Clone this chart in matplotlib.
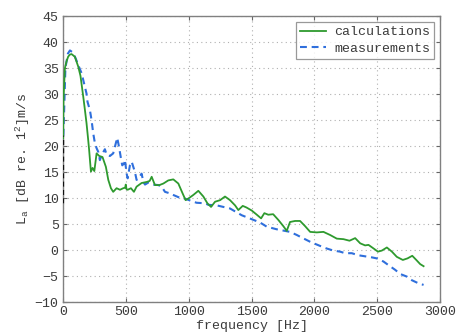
import matplotlib
matplotlib.use("Agg")
import matplotlib.pyplot as plt

# calculations (green)
calc_f = [2, 5, 16, 29, 42, 55, 69, 95, 122, 140, 162, 175, 188, 200, 209, 217, 223, 236,
          250, 268, 289, 315, 342, 361, 382, 400, 427, 454, 480, 495, 500, 506, 515, 541,
          565, 586, 626, 666, 690, 706, 732, 767, 799, 838, 878, 918, 952, 976, 1003,
          1037, 1077, 1117, 1149, 1178, 1210, 1250, 1289, 1329, 1369, 1395, 1430, 1459,
          1502, 1542, 1576, 1602, 1633, 1672, 1713, 1753, 1780, 1806, 1846, 1886, 1926,
          1966, 2019, 2072, 2125, 2178, 2231, 2279, 2324, 2364, 2403, 2430, 2465, 2505,
          2536, 2576, 2616, 2655, 2703, 2740, 2778, 2810, 2841, 2868]
calc_db = [21.5, 29.0, 35.0, 36.3, 37.2, 37.6, 37.7, 37.2, 35.3, 33.5, 29.5, 27.0, 24.4,
           21.5, 19.2, 16.8, 15.1, 15.8, 15.2, 18.6, 18.1, 17.9, 16.0, 13.5, 11.9, 11.2,
           11.9, 11.6, 11.9, 12.0, 12.6, 11.7, 11.6, 11.9, 11.2, 12.2, 12.9, 13.1, 13.3,
           14.1, 12.5, 12.5, 12.8, 13.4, 13.6, 12.8, 10.9, 9.6, 10.0, 10.6, 11.4, 10.3,
           9.0, 8.3, 9.3, 9.6, 10.3, 9.6, 8.6, 7.7, 8.5, 8.2, 7.6, 6.8, 6.1, 7.1, 6.8, 6.9,
           5.8, 4.6, 3.7, 5.4, 5.6, 5.6, 4.6, 3.5, 3.4, 3.5, 2.9, 2.2, 2.1, 1.8, 2.3, 1.3,
           0.9, 1.0, 0.4, -0.3, -0.1, 0.5, -0.3, -1.3, -1.9, -1.6, -1.1, -1.9, -2.7, -3.1]

# measurements (blue dashed)
meas_f = [4, 20, 40, 56, 80, 101, 117, 149, 162, 188, 196, 215, 228, 241, 255, 268, 281,
          294, 313, 334, 348, 374, 400, 414, 432, 446, 462, 472, 488, 493, 507, 515, 533,
          547, 560, 573, 586, 600, 626, 640, 653, 680, 720, 760, 785, 812, 852, 878, 945,
          971, 1037, 1064, 1130, 1157, 1223, 1329, 1422, 1568, 1621, 1700, 1806, 1860,
          1900, 1966, 2005, 2045, 2098, 2151, 2204, 2244, 2297, 2350, 2403, 2456, 2496,
          2549, 2589, 2642, 2682, 2735, 2775, 2828, 2868]
meas_db = [22.0, 35.0, 37.8, 38.4, 38.0, 36.9, 35.9, 34.0, 32.7, 30.1, 28.5, 26.9, 25.0,
           22.5, 20.5, 19.6, 18.9, 17.3, 18.5, 19.4, 18.3, 18.1, 18.6, 19.9, 21.6, 19.9,
           17.6, 16.3, 16.7, 17.4, 14.7, 13.8, 16.3, 17.0, 16.0, 15.0, 13.5, 13.8, 14.7,
           13.1, 12.6, 13.0, 12.6, 12.5, 12.2, 11.2, 10.9, 10.6, 9.9, 9.9, 9.3, 9.1, 9.0,
           8.7, 8.6, 8.0, 6.7, 5.3, 4.5, 4.0, 3.5, 2.9, 2.4, 1.6, 1.2, 0.8, 0.3, -0.1,
           -0.3, -0.6, -0.6, -1.0, -1.2, -1.4, -1.6, -2.2, -2.9, -3.8, -4.6, -5.1, -5.8,
           -6.4, -6.7]

# low-frequency start of measurement (drawn dark)
low_f = [3, 4]
low_db = [9.0, 22.0]

xticks = [0, 500, 1000, 1500, 2000, 2500, 3000]
yticks = [-10, -5, 0, 5, 10, 15, 20, 25, 30, 35, 40, 45]

FONT = "Liberation Mono"
plt.rcParams['font.family'] = [FONT, 'DejaVu Sans Mono']
plt.rcParams['mathtext.fontset'] = 'custom'
plt.rcParams['mathtext.rm'] = FONT
plt.rcParams['mathtext.it'] = FONT
plt.rcParams['mathtext.bf'] = FONT

TXT = '#3a3a3a'
fig = plt.figure(figsize=(4.59, 3.36), dpi=100)
ax = fig.add_axes([0.137, 0.101, 0.822, 0.851])

green = '#2e9a2e'
blue = '#2f6fdc'
ax.plot(calc_f, calc_db, color=green, lw=1.3, label='calculations', zorder=3)
ax.plot(meas_f, meas_db, color=blue, lw=1.5, ls=(0, (3.3, 2.3)), label='measurements', zorder=2)
ax.plot(low_f, low_db, color='#111111', lw=1.2, ls=(0, (3, 2)), zorder=4)

ax.set_xlim(0, 3000)
ax.set_ylim(-10, 45)
ax.set_xticks(xticks)
ax.set_yticks(yticks)
ax.grid(True, color='#b0b0b0', ls=(0, (1, 3)), lw=0.8)
ax.tick_params(direction='in', top=True, right=True, length=3, colors='#666666',
               labelcolor=TXT, labelsize=9.5, pad=3)
for s in ax.spines.values():
    s.set_color('#808080')
    s.set_linewidth(1.0)

ax.set_xlabel('frequency [Hz]', color=TXT, fontsize=9.5, labelpad=1)
ax.set_ylabel(r'L$_\mathrm{a}$ [dB re. 1$^2$]m/s', color=TXT, fontsize=9.5, labelpad=2)

leg = ax.legend(loc='upper right', fontsize=9.5, frameon=True, fancybox=False,
                borderpad=0.3, handlelength=2.0, handletextpad=0.6, labelspacing=0.35,
                borderaxespad=0.45, labelcolor=TXT)
leg.get_frame().set_edgecolor('#808080')
leg.get_frame().set_linewidth(0.9)

fig.savefig('out.png', dpi=100)
